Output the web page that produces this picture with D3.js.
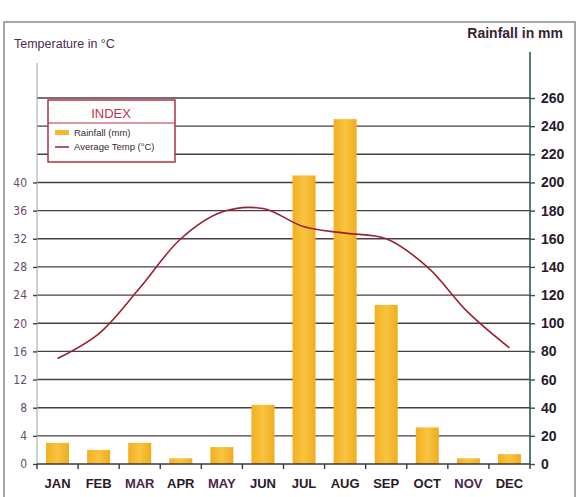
<!DOCTYPE html>
<html>
<head>
<meta charset="utf-8">
<script src="https://cdn.jsdelivr.net/npm/d3@7/dist/d3.min.js"></script>
<style>
  html, body { margin: 0; padding: 0; background: #ffffff; }
  svg { display: block; }
</style>
</head>
<body>
<svg id="chart" width="580" height="497"></svg>
<script>
// Monthly climate data
const months = ["JAN", "FEB", "MAR", "APR", "MAY", "JUN", "JUL", "AUG", "SEP", "OCT", "NOV", "DEC"];
const rainfall = [15, 10, 15, 4, 12, 42, 205, 245, 113, 26, 4, 7];          // mm
const avgTemp = [15, 18.5, 25, 32, 35.8, 36.3, 33.7, 32.8, 32, 28, 21.5, 16.5]; // °C
const rainTicks = [0, 20, 40, 60, 80, 100, 120, 140, 160, 180, 200, 220, 240, 260];
const tempTicks = [0, 4, 8, 12, 16, 20, 24, 28, 32, 36, 40];

const svg = d3.select("#chart");
const plotLeft = 37, plotRight = 530, plotBottom = 464, plotTop = 98;

const x = d3.scaleBand().domain(months).range([plotLeft, plotRight]).paddingInner(0.44).paddingOuter(0.22);
const xEdge = d3.scaleLinear().domain([0, 12]).range([plotLeft, plotRight]);
const yRain = d3.scaleLinear().domain([0, 260]).range([plotBottom, plotTop]);
const yTemp = d3.scaleLinear().domain([0, 52]).range([plotBottom, plotTop]);

// frame
svg.append("rect").attr("x", 4).attr("y", 22).attr("width", 571).attr("height", 490)
  .attr("fill", "none").attr("stroke", "#8a8a8a").attr("stroke-width", 1.5);

// axis titles
svg.append("text").attr("x", 14).attr("y", 48)
  .attr("font-family", "Liberation Sans, Arial, sans-serif").attr("font-size", 12.5)
  .attr("fill", "#4a3050").text("Temperature in °C");
svg.append("text").attr("x", 563).attr("y", 38).attr("text-anchor", "end")
  .attr("font-family", "Liberation Sans, Arial, sans-serif").attr("font-size", 14)
  .attr("font-weight", "bold")
  .attr("fill", "#3a2238").text("Rainfall in mm");

// horizontal grid lines
svg.append("g").selectAll("line").data(rainTicks.filter(d => d > 0)).join("line")
  .attr("x1", plotLeft).attr("x2", plotRight)
  .attr("y1", d => yRain(d)).attr("y2", d => yRain(d))
  .attr("stroke", "#4a3c4a").attr("stroke-width", 1.4);

// left axis line
svg.append("line").attr("x1", plotLeft).attr("x2", plotLeft).attr("y1", 63).attr("y2", plotBottom)
  .attr("stroke", "#a8b8b0").attr("stroke-width", 1.2);

// right axis (rainfall)
const rightAxis = d3.axisRight(yRain).tickValues(rainTicks).tickSize(5).tickPadding(6);
const gR = svg.append("g").attr("transform", `translate(${plotRight},0)`).call(rightAxis);
gR.select(".domain").remove();
gR.append("line").attr("x1", 0).attr("x2", 0).attr("y1", 52).attr("y2", plotBottom)
  .attr("stroke", "#2e5a4a").attr("stroke-width", 1.6);
gR.selectAll(".tick line").attr("stroke", "#2e5a4a").attr("stroke-width", 1.4);
gR.selectAll(".tick text")
  .attr("font-family", "Liberation Sans, Arial, sans-serif").attr("font-size", 14)
  .attr("font-weight", "bold")
  .attr("fill", "#2a1a2a");

// left axis (temperature)
const leftAxis = d3.axisLeft(yTemp).tickValues(tempTicks).tickSize(4).tickPadding(6);
const gL = svg.append("g").attr("transform", `translate(${plotLeft},0)`).call(leftAxis);
gL.select(".domain").remove();
gL.selectAll(".tick line").attr("stroke", "#4a3c4a").attr("stroke-width", 1.4);
gL.selectAll(".tick text")
  .attr("font-family", "DejaVu Sans Condensed, Liberation Sans, sans-serif").attr("font-size", 12)
  .attr("fill", "#6a4a6e");

// rainfall bars
const barGrad = svg.append("defs").append("linearGradient").attr("id", "barFill")
  .attr("x1", 0).attr("x2", 1).attr("y1", 0).attr("y2", 0);
barGrad.append("stop").attr("offset", 0).attr("stop-color", "#f2b020");
barGrad.append("stop").attr("offset", 0.5).attr("stop-color", "#f8c440");
barGrad.append("stop").attr("offset", 1).attr("stop-color", "#efac1e");

svg.append("g").selectAll("rect").data(rainfall).join("rect")
  .attr("x", (d, i) => x(months[i]))
  .attr("width", x.bandwidth())
  .attr("y", d => yRain(d))
  .attr("height", d => plotBottom - yRain(d))
  .attr("fill", "url(#barFill)");

// x axis baseline with ticks between months
svg.append("line").attr("x1", plotLeft).attr("x2", plotRight).attr("y1", plotBottom).attr("y2", plotBottom)
  .attr("stroke", "#3a3a3a").attr("stroke-width", 1.4);
svg.append("g").selectAll("line").data(d3.range(0, 13)).join("line")
  .attr("x1", d => xEdge(d)).attr("x2", d => xEdge(d))
  .attr("y1", plotBottom).attr("y2", plotBottom + 5)
  .attr("stroke", "#3a3a3a").attr("stroke-width", 1.4);

// month labels
svg.append("g").selectAll("text").data(months).join("text")
  .attr("x", d => x(d) + x.bandwidth() / 2)
  .attr("y", 488)
  .attr("text-anchor", "middle")
  .attr("font-family", "Liberation Sans, Arial, sans-serif").attr("font-size", 13)
  .attr("font-weight", "bold")
  .attr("fill", (d) => ["MAR", "MAY", "NOV"].includes(d) ? "#4a2848" : "#2a1a2a")
  .text(d => d);

// average temperature line
const line = d3.line()
  .x((d, i) => x(months[i]) + x.bandwidth() / 2)
  .y(d => yTemp(d))
  .curve(d3.curveCatmullRom.alpha(0.5));
svg.append("path").datum(avgTemp)
  .attr("d", line)
  .attr("fill", "none").attr("stroke", "#9a2232").attr("stroke-width", 1.6);

// legend
const lg = svg.append("g").attr("transform", "translate(48,100)");
lg.append("rect").attr("width", 127).attr("height", 62)
  .attr("fill", "#ffffff").attr("stroke", "#b3303f").attr("stroke-width", 1.5);
lg.append("line").attr("x1", 0).attr("x2", 127).attr("y1", 23).attr("y2", 23)
  .attr("stroke", "#b3303f").attr("stroke-width", 1.2);
lg.append("text").attr("x", 63).attr("y", 18).attr("text-anchor", "middle")
  .attr("font-family", "Liberation Sans, Arial, sans-serif").attr("font-size", 13)
  .attr("fill", "#c8304a").text("INDEX");
lg.append("rect").attr("x", 7).attr("y", 30).attr("width", 14).attr("height", 5)
  .attr("fill", "#f5b82a");
lg.append("text").attr("x", 26).attr("y", 36)
  .attr("font-family", "Liberation Sans, Arial, sans-serif").attr("font-size", 9.5)
  .attr("fill", "#3a2a30").text("Rainfall (mm)");
lg.append("line").attr("x1", 7).attr("x2", 21).attr("y1", 47).attr("y2", 47)
  .attr("stroke", "#9a2232").attr("stroke-width", 1.5);
lg.append("text").attr("x", 26).attr("y", 50)
  .attr("font-family", "Liberation Sans, Arial, sans-serif").attr("font-size", 9.5)
  .attr("fill", "#3a2a30").text("Average Temp (°C)");
</script>
</body>
</html>
